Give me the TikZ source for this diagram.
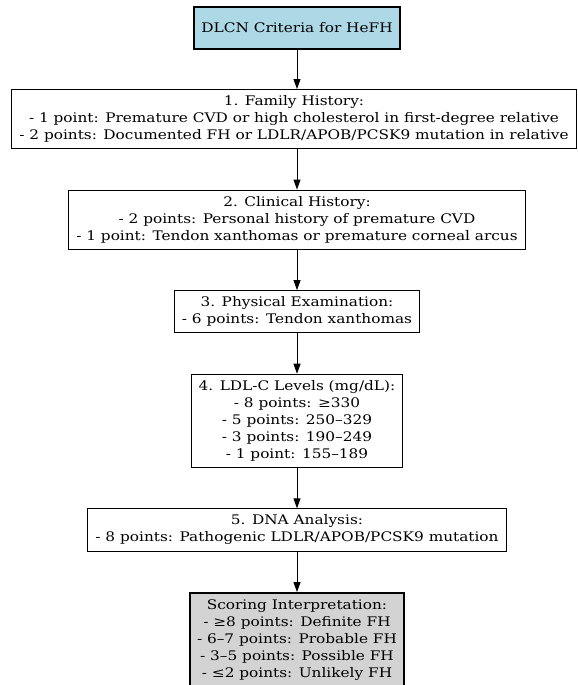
\documentclass[tikz,border=0pt]{standalone}
\usepackage{fontspec}
\setmainfont{DejaVu Serif}[FakeStretch=1.16]
\usepackage{tikz}
\usetikzlibrary{positioning,arrows.meta}
\definecolor{hdrblue}{HTML}{ADD8E6}
\definecolor{scoregray}{HTML}{D3D3D3}
\tikzset{node distance=40.5bp, auto}
\tikzset{
  box/.style={draw, line width=0.9bp, align=center, inner xsep=7.5bp, inner ysep=6.2bp,
    font=\fontsize{13.2bp}{17bp}\selectfont},
  hdrbox/.style={box, line width=2bp, fill=hdrblue, minimum height=42bp},
  scorebox/.style={box, line width=2bp, fill=scoregray},
  flow/.style={-{Triangle[length=10bp,width=7bp]}, line width=0.9bp}
}

\begin{document}
\begin{tikzpicture}
		\useasboundingbox (0,0) rectangle (578bp,-685bp);
		\node(dlcn)[hdrbox] at (297bp,-28bp){DLCN Criteria for HeFH};
		\node(family)[box, below=39bp of dlcn, xshift=-3bp]{1. Family History:\\- 1 point: Premature CVD or high cholesterol in first-degree relative\\- 2 points: Documented FH or LDLR/APOB/PCSK9 mutation in relative};
		\node(clinical)[box, below=of family.south -| dlcn]{2. Clinical History:\\- 2 points: Personal history of premature CVD\\- 1 point: Tendon xanthomas or premature corneal arcus};
		\node(exam)[box, below=of clinical]{3. Physical Examination:\\- 6 points: Tendon xanthomas};
		\node(ldlc)[box, below=of exam]{4. LDL-C Levels (mg/dL):\\- 8 points: ≥330\\- 5 points: 250–329\\- 3 points: 190–249\\- 1 point: 155–189};
		\node(dna)[box, below=of ldlc]{5. DNA Analysis:\\- 8 points: Pathogenic LDLR/APOB/PCSK9 mutation};
		\node(score)[scorebox, below=of dna]{Scoring Interpretation:\\- ≥8 points: Definite FH\\- 6–7 points: Probable FH\\- 3–5 points: Possible FH\\- ≤2 points: Unlikely FH};
		\draw[flow](dlcn) to (dlcn |- family.north);
		\draw[flow](dlcn |- family.south) to (clinical);
		\draw[flow](clinical) to (exam);
		\draw[flow](exam) to (ldlc);
		\draw[flow](ldlc) to (dna);
		\draw[flow](dna) to (score);
	\end{tikzpicture}
\end{document}
